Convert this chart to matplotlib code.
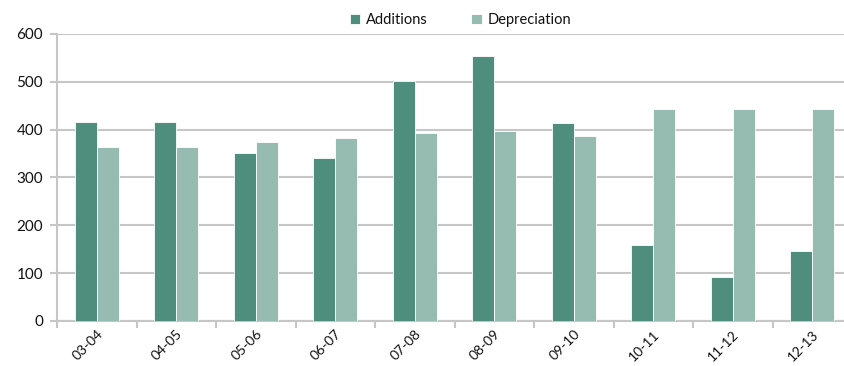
import matplotlib
matplotlib.use("Agg")
import matplotlib.pyplot as plt
import numpy as np

plt.rcParams['font.family'] = ['Lato', 'DejaVu Sans']

categories = ["03-04", "04-05", "05-06", "06-07", "07-08", "08-09", "09-10", "10-11", "11-12", "12-13"]
additions = [417, 417, 352, 340, 502, 554, 413, 159, 93, 147]
depreciation = [363, 363, 375, 382, 394, 398, 387, 444, 444, 444]
yticks = [0, 100, 200, 300, 400, 500, 600]

c_add = "#4f8e7c"
c_dep = "#96bcb2"
grid_c = "#c6c6c6"
txt_c = "#111111"

fig = plt.figure(figsize=(8.45, 3.66), dpi=100)
ax = fig.add_axes([57/845, 45/366, 795/845, 287/366])

x = np.arange(len(categories))
w = 0.275
ax.bar(x - w/2, additions, width=w, color=c_add, edgecolor="white", linewidth=0.6, label="Additions", zorder=3)
ax.bar(x + w/2, depreciation, width=w, color=c_dep, edgecolor="white", linewidth=0.6, label="Depreciation", zorder=3)

ax.set_xlim(-0.5, len(categories) - 0.5)
ax.set_ylim(0, 600)
ax.set_yticks(yticks)
ax.set_yticklabels([str(v) for v in yticks], fontsize=11, color=txt_c)
ax.yaxis.grid(True, color=grid_c, linewidth=1.5, zorder=0)
ax.tick_params(axis='y', length=5, width=1.5, color=grid_c, pad=5)

ax.set_xticks(x)
ax.set_xticklabels(categories, rotation=45, ha='right', rotation_mode='anchor', fontsize=10, color=txt_c)
ax.tick_params(axis='x', length=0, pad=5)
ax.set_xticks(np.arange(len(categories) + 1) - 0.5, minor=True)
ax.tick_params(axis='x', which='minor', length=5, width=1.5, color=grid_c)

for s in ["top", "right"]:
    ax.spines[s].set_visible(False)
ax.spines["left"].set_color(grid_c)
ax.spines["left"].set_linewidth(1.5)
ax.spines["bottom"].set_color(grid_c)
ax.spines["bottom"].set_linewidth(1.5)

leg = fig.legend(loc="upper center", bbox_to_anchor=(0.545, 1.0), ncol=2, frameon=False,
                 fontsize=10.5, handlelength=0.7, handleheight=0.7, columnspacing=3.0, handletextpad=0.4)
for t in leg.get_texts():
    t.set_color(txt_c)

fig.savefig("out.png", dpi=100)
